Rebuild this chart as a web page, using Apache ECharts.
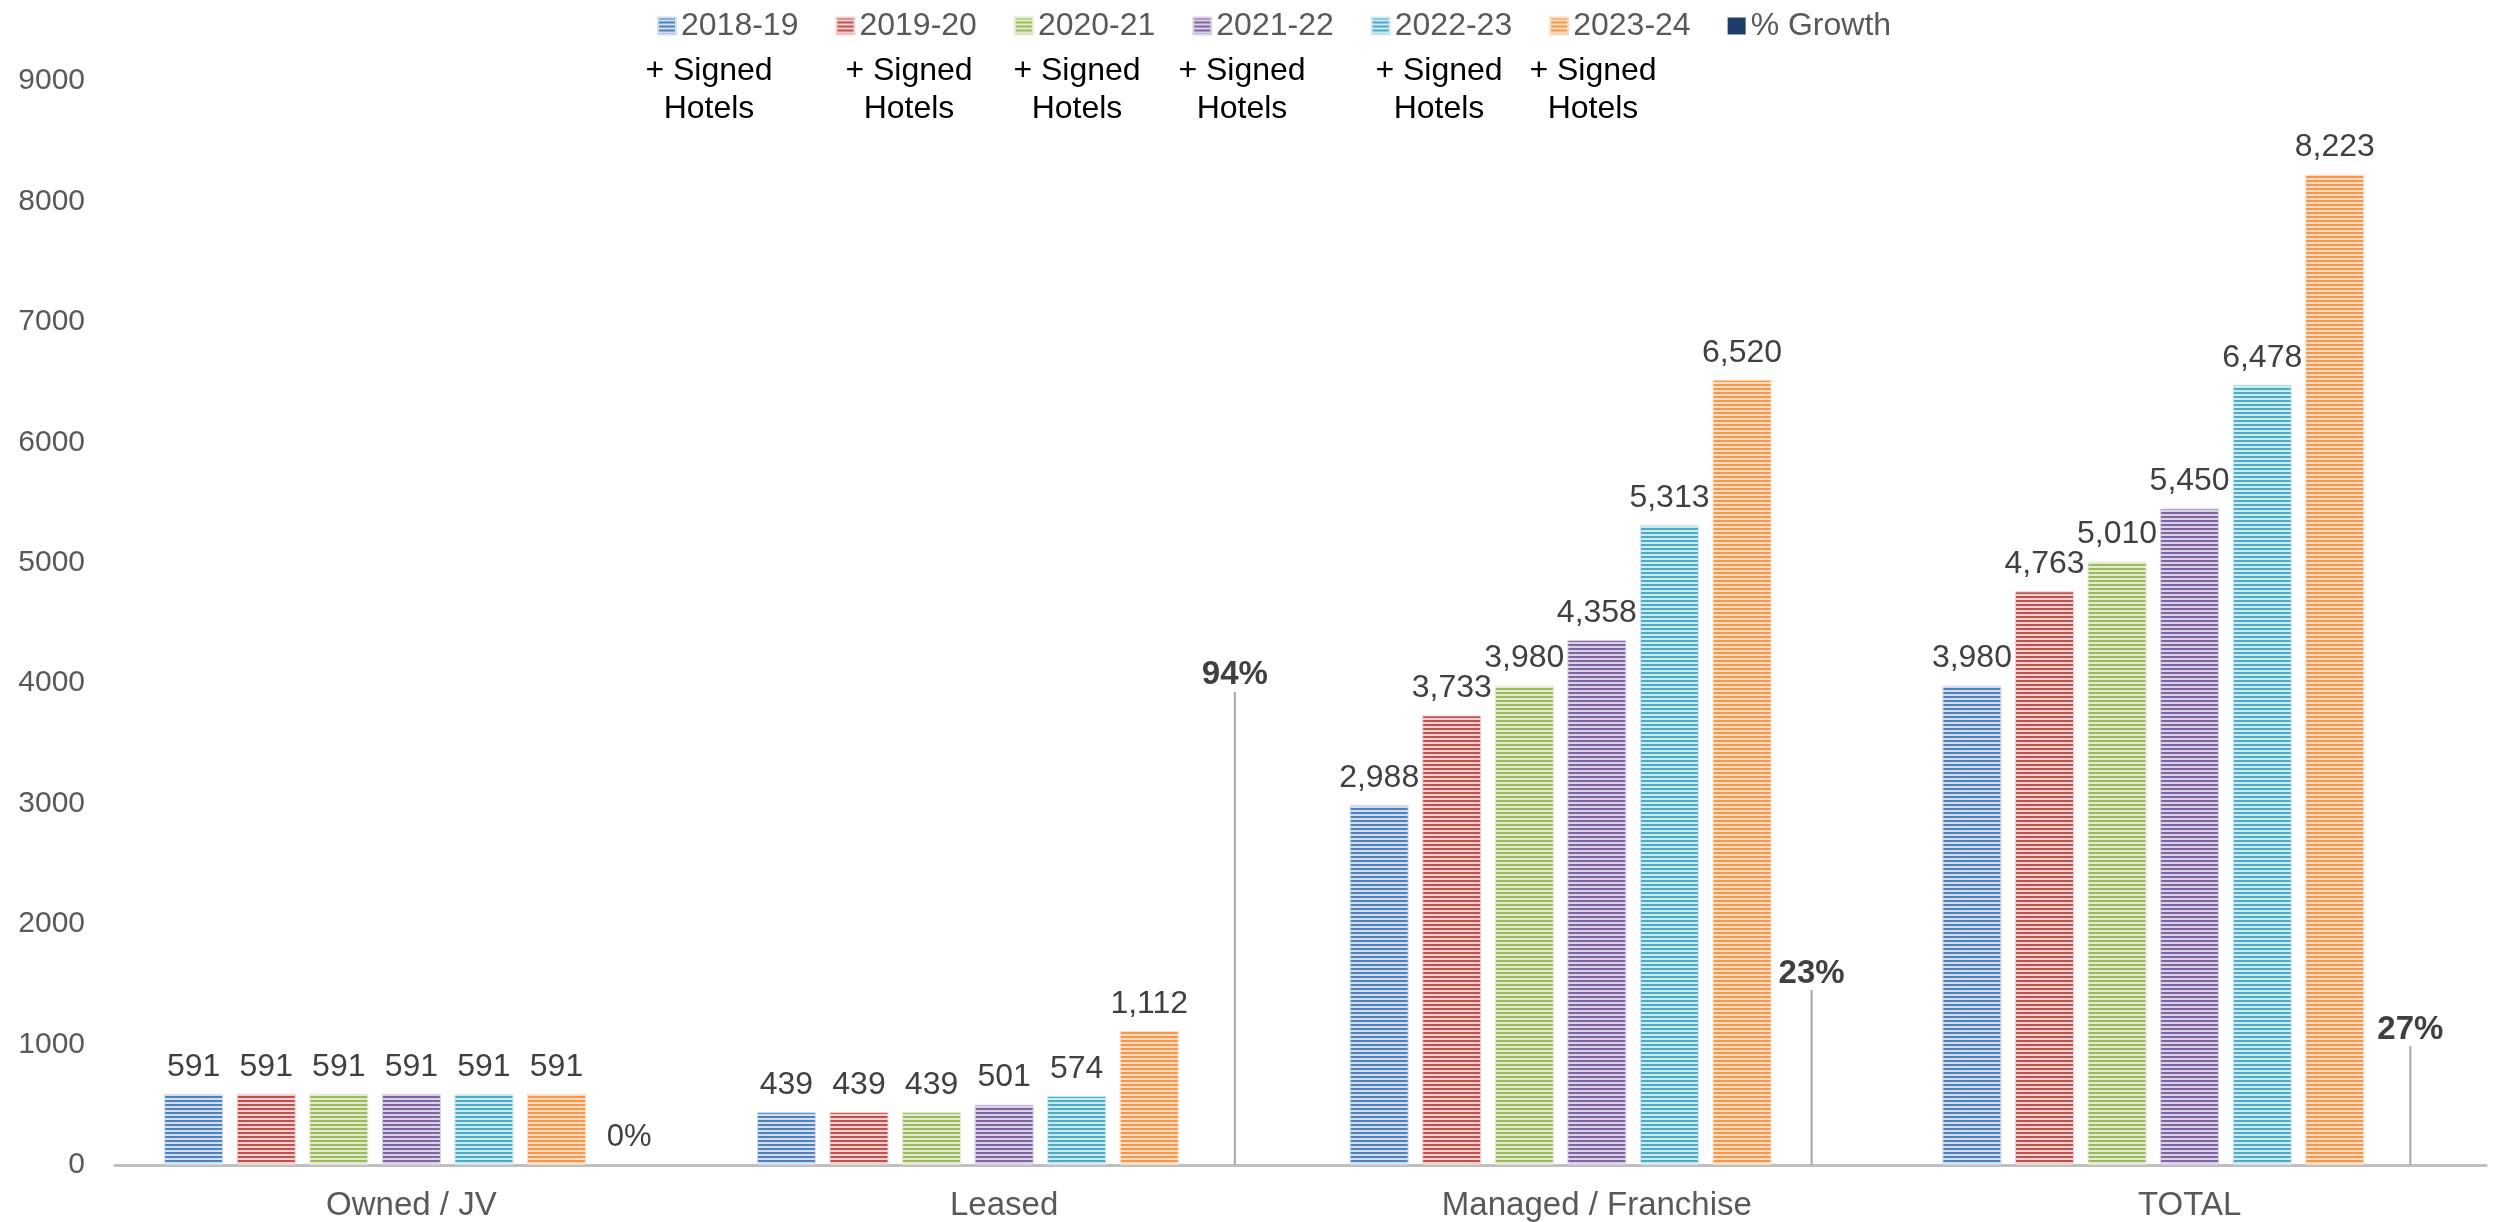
<!DOCTYPE html>
<html>
<head>
<meta charset="utf-8">
<script src="https://cdn.jsdelivr.net/npm/echarts@6/dist/echarts.min.js"></script>
<style>
html,body{margin:0;padding:0;background:#fff;}
#chart{width:2496px;height:1222px;}
</style>
</head>
<body>
<div id="chart"></div>
<script>
// ---- data ----
const categories = ['Owned / JV', 'Leased', 'Managed / Franchise', 'TOTAL'];
const seriesNames = ['2018-19', '2019-20', '2020-21', '2021-22', '2022-23', '2023-24'];
const values2018 = [591, 439, 2988, 3980];
const values2019 = [591, 439, 3733, 4763];
const values2020 = [591, 439, 3980, 5010];
const values2021 = [591, 501, 4358, 5450];
const values2022 = [591, 574, 5313, 6478];
const values2023 = [591, 1112, 6520, 8223];
const growthName = '% Growth';
const growthValues = [0, 0.94, 0.23, 0.27];
const yMin = 0, yMax = 9000, yInterval = 1000;
const legendNotes = ['+ Signed\nHotels', '+ Signed\nHotels', '+ Signed\nHotels', '+ Signed\nHotels', '+ Signed\nHotels', '+ Signed\nHotels'];

// ---- styling ----
const FONT = 'Arial, "Liberation Sans", sans-serif';
const colors = ['#4F81BD', '#C0504D', '#9BBB59', '#8064A2', '#4BACC6', '#F79646'];
const lightColors = ['#D3DEEF', '#EED2D1', '#E3EBD2', '#DAD2E6', '#CFE9F1', '#FCDDC4'];
const growthColor = '#1F3D6B';
const allValues = [values2018, values2019, values2020, values2021, values2022, values2023];
// label offsets for the growth labels (pixels, styling)
const growthLabelShift = [[0, 4], [13, -443], [-3, -145], [3, -89]];
const noteX = [709, 909, 1077, 1242, 1439, 1593];

function stripe(c, light) {
  const cv = document.createElement('canvas');
  cv.width = 4; cv.height = 4;
  const ctx = cv.getContext('2d');
  ctx.fillStyle = light; ctx.fillRect(0, 0, 4, 4);
  ctx.fillStyle = c; ctx.fillRect(0, 0, 4, 2);
  return { image: cv, repeat: 'repeat' };
}

const chart = echarts.init(document.getElementById('chart'), null, { renderer: 'canvas' });

const series = seriesNames.map((n, i) => ({
  name: n,
  type: 'bar',
  data: allValues[i],
  barWidth: 59,
  barGap: '23%',
  itemStyle: { color: stripe(colors[i], lightColors[i]), borderColor: lightColors[i], borderWidth: 1 },
  label: {
    show: true, position: 'top', distance: 11,
    color: '#404040', fontSize: 32, fontFamily: FONT,
    formatter: p => p.value.toLocaleString('en-US')
  }
}));

series.push({
  name: growthName,
  type: 'bar',
  data: growthValues.map((v, i) => i === 0
    ? { value: v, label: { fontWeight: 'normal', padding: 0, fontSize: 31 }, labelLine: { show: false } }
    : { value: v }),
  barWidth: 59,
  barGap: '23%',
  itemStyle: { color: growthColor },
  label: {
    show: true, position: 'top', distance: 16,
    color: '#404040', fontSize: 33, fontWeight: 'bold', fontFamily: FONT,
    padding: [0, 0, 14, 0],
    formatter: p => Math.round(p.value * 100) + '%'
  },
  labelLine: { show: true, lineStyle: { color: '#A6A6A6', width: 2 } },
  labelLayout: function (params) {
    const s = growthLabelShift[params.dataIndex];
    return { dx: s[0], dy: s[1] };
  }
});

const option = {
  backgroundColor: '#ffffff',
  animation: false,
  color: colors.concat([growthColor]),
  textStyle: { fontFamily: FONT },
  legend: {
    left: 652, top: 5,
    itemWidth: 18, itemHeight: 17, itemGap: 37,
    icon: 'rect',
    textStyle: { fontSize: 32, color: '#595959', fontFamily: FONT },
    data: seriesNames.concat([growthName])
  },
  grid: { left: 115, right: 10, top: 81, bottom: 54, containLabel: false },
  xAxis: {
    type: 'category',
    data: categories,
    axisLine: { lineStyle: { color: '#BFBFBF', width: 3 } },
    axisTick: { show: false },
    axisLabel: { color: '#595959', fontSize: 33, fontFamily: FONT, margin: 24 }
  },
  yAxis: {
    type: 'value',
    min: yMin, max: yMax, interval: yInterval,
    splitLine: { show: false },
    axisLine: { show: false },
    axisTick: { show: false },
    axisLabel: { color: '#595959', fontSize: 30, fontFamily: FONT, margin: 30, formatter: v => String(v) }
  },
  graphic: legendNotes.map((t, i) => ({
    type: 'text',
    x: noteX[i], y: 52,
    style: { text: t, fill: '#000000', font: '32px ' + FONT, align: 'center', verticalAlign: 'top', lineHeight: 38 }
  })),
  series: series
};

chart.setOption(option);
</script>
</body>
</html>
